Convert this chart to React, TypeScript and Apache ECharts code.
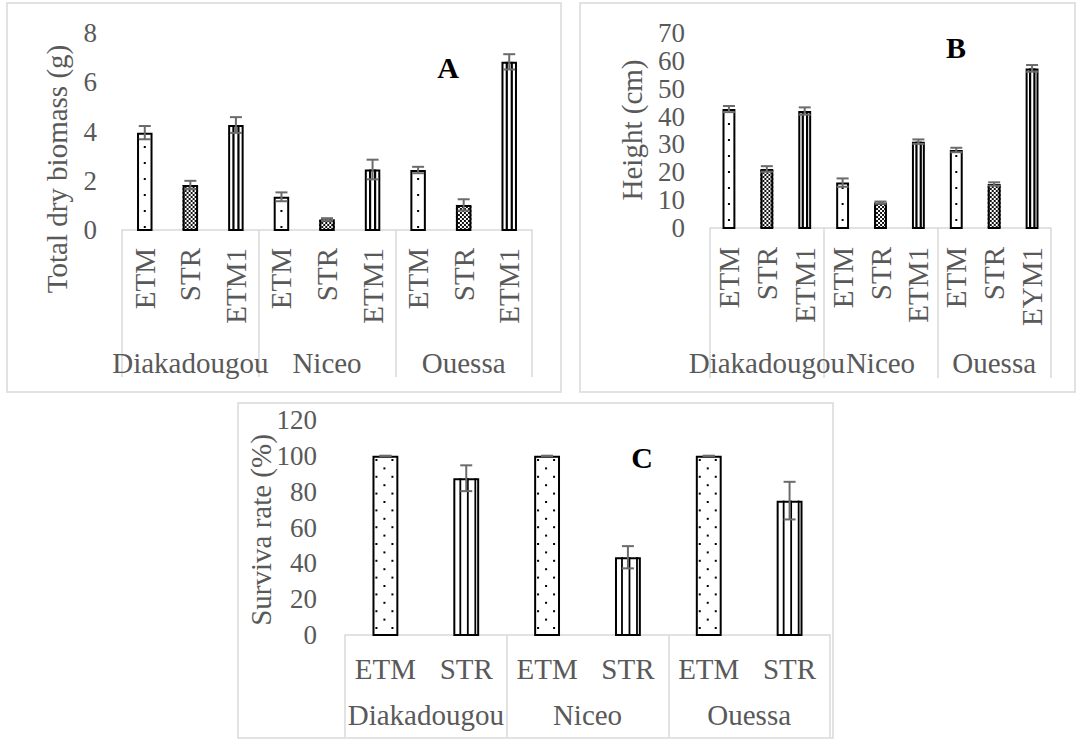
import React, { useEffect, useRef } from "react";
import * as echarts from "echarts";

// ---------- data ----------
const sites = ["Diakadougou", "Niceo", "Ouessa"];
const treatmentsA = ["ETM", "STR", "ETM1", "ETM", "STR", "ETM1", "ETM", "STR", "ETM1"];
const treatmentsB = ["ETM", "STR", "ETM1", "ETM", "STR", "ETM1", "ETM", "STR", "EYM1"];
const treatmentsC = ["ETM", "STR", "ETM", "STR", "ETM", "STR"];

const biomass = [3.96, 1.83, 4.27, 1.35, 0.43, 2.46, 2.44, 1.02, 6.84];
const biomassErr = [0.27, 0.17, 0.32, 0.18, 0.05, 0.4, 0.13, 0.23, 0.31];

const heightCm = [42.7, 21.2, 42.0, 16.3, 9.1, 31.0, 28.0, 15.8, 57.3];
const heightErr = [1.1, 1.0, 1.3, 1.5, 0.4, 0.8, 0.8, 0.6, 1.2];

const survival = [100, 87.5, 100, 43.4, 100, 75];
const survivalErr = [0, 7.2, 0, 6.2, 0, 10.5];

const titleA = "Total dry biomass (g)";
const titleB = "Height (cm)";
const titleC = "Surviva rate (%)";

// ---------- styles ----------
const FONT = '"Liberation Serif", "Times New Roman", serif';
const GRAY = "#595959";
const LINE = "#d9d9d9";
const ERR = "#6b6b6b";

const patternAB: Record<string, string> = { ETM: "dots", STR: "checker", ETM1: "stripes", EYM1: "stripes" };
const patternC: Record<string, string> = { ETM: "dots", STR: "stripes" };

type RenderOpts = {
  ratio: number;
  dotStart: number;
  dotSpacing: number;
  dotDx: number;
  stripeStart: number;
  stripePeriod: number;
  stripeWidth: number;
};

function makeRender(treatments: string[], patterns: Record<string, string>, o: RenderOpts) {
  return (params: any, api: any) => {
    const idx = api.value(0);
    const v = api.value(1);
    const e = api.value(2);
    const base = api.coord([idx, 0]);
    const top = api.coord([idx, v]);
    const slot = api.size([1, 0])[0];
    const bw = slot * o.ratio;
    const x0 = base[0] - bw / 2;
    const y0 = top[1];
    const yb = base[1];
    const h = yb - y0;
    const children: any[] = [];
    children.push({ type: "rect", shape: { x: x0, y: y0, width: bw, height: h }, style: { fill: "#fff" } });
    const kind = patterns[treatments[idx]];
    if (kind === "dots") {
      const cx = base[0] + o.dotDx;
      for (const k of [-1, 0, 1]) {
        const xk = cx + 8 * k;
        if (xk - 1 < x0 + 2.5 || xk + 1 > x0 + bw - 2.5) continue;
        let start = o.dotStart;
        if (k !== 0) {
          start = o.dotStart - o.dotSpacing / 2;
          if (start < 2) start += o.dotSpacing;
        }
        for (let y = yb - start; y > y0 + 3; y -= o.dotSpacing) {
          children.push({ type: "rect", shape: { x: xk - 1, y: y - 1, width: 2, height: 2 }, style: { fill: "#000" } });
        }
      }
    } else if (kind === "checker") {
      const c = 2;
      let r = 0;
      for (let y = yb - c; y > y0 - c; y -= c, r++) {
        let col = 0;
        for (let x = x0; x < x0 + bw; x += c, col++) {
          if ((r + col) % 2 === 0) {
            const yy = Math.max(y, y0);
            const hh = y + c - yy;
            if (hh <= 0) continue;
            const ww = Math.min(c, x0 + bw - x);
            children.push({ type: "rect", shape: { x, y: yy, width: ww, height: hh }, style: { fill: "#111" } });
          }
        }
      }
    } else if (kind === "stripes") {
      for (let s = o.stripeStart; s < bw - 2; s += o.stripePeriod) {
        children.push({
          type: "rect",
          shape: { x: x0 + s - o.stripeWidth / 2, y: y0, width: o.stripeWidth, height: h },
          style: { fill: "#000" },
        });
      }
    }
    children.push({
      type: "rect",
      shape: { x: x0 + 1, y: y0 + 1, width: bw - 2, height: Math.max(h - 1, 0) },
      style: { fill: "transparent", stroke: "#000", lineWidth: 2 },
    });
    const p1 = api.coord([idx, v + e]);
    const p2 = api.coord([idx, v - e]);
    const cap = 6;
    if (e > 0) {
      children.push({ type: "line", shape: { x1: p1[0], y1: p1[1], x2: p2[0], y2: p2[1] }, style: { stroke: ERR, lineWidth: 2 } });
    }
    children.push({ type: "line", shape: { x1: p1[0] - cap, y1: p1[1], x2: p1[0] + cap, y2: p1[1] }, style: { stroke: ERR, lineWidth: 2 } });
    children.push({ type: "line", shape: { x1: p2[0] - cap, y1: p2[1], x2: p2[0] + cap, y2: p2[1] }, style: { stroke: ERR, lineWidth: 2 } });
    return { type: "group", children };
  };
}

function treatAxis(grid: number, data: string[], rotate: number, margin: number) {
  return {
    gridIndex: grid,
    type: "category",
    position: "bottom",
    data,
    axisLine: { show: false },
    axisTick: { show: false },
    splitLine: { show: false },
    axisLabel: { interval: 0, rotate, margin, color: GRAY, fontFamily: FONT, fontSize: 29 },
  };
}

function siteAxis(grid: number, tickLen: number, margin: number) {
  return {
    gridIndex: grid,
    type: "category",
    position: "bottom",
    data: sites,
    axisLine: { show: true, lineStyle: { color: LINE, width: 1.5 } },
    axisTick: { show: true, interval: 0, length: tickLen, lineStyle: { color: LINE, width: 1.5 } },
    splitLine: { show: false },
    axisLabel: { interval: 0, margin, color: GRAY, fontFamily: FONT, fontSize: 29 },
  };
}

function valAxis(grid: number, max: number, interval: number, margin: number) {
  return {
    gridIndex: grid,
    type: "value",
    min: 0,
    max,
    interval,
    axisLine: { show: false },
    axisTick: { show: false },
    splitLine: { show: false },
    axisLabel: { margin, color: GRAY, fontFamily: FONT, fontSize: 27 },
  };
}

function toData(values: number[], errs: number[]) {
  return values.map((v, i) => [i, v, errs[i]]);
}

function panelBox(x: number, y: number, w: number, h: number) {
  return { type: "rect", silent: true, shape: { x, y, width: w, height: h }, style: { fill: "transparent", stroke: LINE, lineWidth: 1.5 } };
}

function vTitle(text: string, x: number, y: number) {
  return {
    type: "text",
    x,
    y,
    rotation: Math.PI / 2,
    style: { text, fontFamily: FONT, fontSize: 29, fill: GRAY, align: "center", verticalAlign: "middle" },
  };
}

function letter(text: string, x: number, y: number) {
  return {
    type: "text",
    x,
    y,
    style: { text, fontFamily: FONT, fontSize: 30, fontWeight: "bold", fill: "#000", align: "center", verticalAlign: "middle" },
  };
}

export default function App() {
  const ref = useRef<HTMLDivElement>(null);
  useEffect(() => {
    if (!ref.current) return;
    const chart = echarts.init(ref.current, undefined, { renderer: "svg" });
    const option: any = {
      animation: false,
      backgroundColor: "#fff",
      grid: [
        { left: 122, top: 33.3, width: 410, height: 196.7, outerBoundsMode: "none" },
        { left: 710, top: 33, width: 341, height: 195, outerBoundsMode: "none" },
        { left: 345, top: 420, width: 485, height: 215, outerBoundsMode: "none" },
      ],
      xAxis: [
        treatAxis(0, treatmentsA, 90, 18),
        siteAxis(0, 147, 118),
        treatAxis(1, treatmentsB, 90, 19),
        siteAxis(1, 150, 120),
        treatAxis(2, treatmentsC, 0, 19),
        siteAxis(2, 102, 65),
      ],
      yAxis: [valAxis(0, 8, 2, 25), valAxis(1, 70, 10, 25), valAxis(2, 120, 20, 28)],
      series: [
        {
          type: "custom",
          xAxisIndex: 0,
          yAxisIndex: 0,
          renderItem: makeRender(treatmentsA, patternAB, { ratio: 0.34, dotStart: 3, dotSpacing: 16, dotDx: 0, stripeStart: 5.3, stripePeriod: 5, stripeWidth: 2.2 }),
          encode: { x: 0, y: 1 },
          data: toData(biomass, biomassErr),
        },
        {
          type: "custom",
          xAxisIndex: 2,
          yAxisIndex: 1,
          renderItem: makeRender(treatmentsB, patternAB, { ratio: 0.34, dotStart: 8, dotSpacing: 16, dotDx: 0, stripeStart: 4.5, stripePeriod: 4.3, stripeWidth: 2.2 }),
          encode: { x: 0, y: 1 },
          data: toData(heightCm, heightErr),
        },
        {
          type: "custom",
          xAxisIndex: 4,
          yAxisIndex: 2,
          renderItem: makeRender(treatmentsC, patternC, { ratio: 0.32, dotStart: 15.4, dotSpacing: 16.8, dotDx: -1, stripeStart: 7, stripePeriod: 7.5, stripeWidth: 1.8 }),
          encode: { x: 0, y: 1 },
          data: toData(survival, survivalErr),
        },
      ],
      graphic: [
        panelBox(7, 3, 554, 389),
        panelBox(580, 3, 495, 389),
        panelBox(238, 403, 595, 335),
        vTitle(titleA, 57, 169),
        vTitle(titleB, 632, 130),
        vTitle(titleC, 261, 530),
        letter("A", 448, 67),
        letter("B", 956, 47),
        letter("C", 642, 457),
      ],
    };
    chart.setOption(option);
    return () => chart.dispose();
  }, []);
  return <div ref={ref} style={{ position: "absolute", left: 0, top: 0, width: 1079, height: 741 }} />;
}
